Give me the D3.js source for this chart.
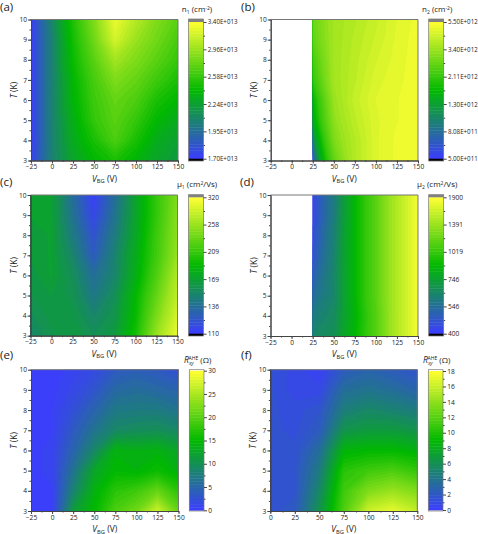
<!DOCTYPE html>
<html lang="en">
<head>
  <meta charset="UTF-8">
  <title>Two-carrier transport maps</title>
  <style>
    body { margin: 0; background: #fff; }
    svg { display: block; }
    text { font-family: "Open Sans", Arial, sans-serif; fill: #222; }
  </style>
</head>
<body>
<svg width="478" height="534"></svg>
<script src="https://d3js.org/d3.v7.min.js"></script>
<script>
  const svg = d3.select("svg");

  // Temperature rows, bottom to top
  const tempK = [3, 4, 5, 6, 7, 8, 9, 10];
  const vFull = [-25, 0, 25, 50, 75, 100, 125, 150];
  const vFrom25 = [25, 50, 75, 100, 125, 150];
  const vFrom0 = [0, 25, 50, 75, 100, 125, 150];

  const n1Ticks = [1.70e13, 1.95e13, 2.24e13, 2.58e13, 2.96e13, 3.40e13];
  const n2Ticks = [5.00e11, 8.08e11, 1.30e12, 2.11e12, 3.40e12, 5.50e12];
  const mu1Ticks = [110, 136, 169, 209, 258, 320];
  const mu2Ticks = [400, 546, 746, 1019, 1391, 1900];
  const rAnomETicks = [0, 5, 10, 15, 20, 25, 30];
  const rAnomFTicks = [0, 2, 4, 6, 8, 10, 12, 14, 16, 18];

  // n1 in 1e13 cm^-2
  const n1 = [
    [1.74, 2.06, 2.27, 2.40, 2.49, 2.38, 2.27, 2.20],
    [1.72, 2.06, 2.31, 2.49, 2.67, 2.49, 2.32, 2.24],
    [1.72, 2.06, 2.34, 2.58, 2.72, 2.58, 2.40, 2.31],
    [1.72, 2.06, 2.38, 2.61, 2.76, 2.67, 2.49, 2.40],
    [1.72, 2.06, 2.40, 2.65, 2.86, 2.76, 2.61, 2.49],
    [1.72, 2.06, 2.44, 2.72, 3.00, 2.86, 2.72, 2.58],
    [1.72, 2.06, 2.47, 2.80, 3.21, 2.96, 2.80, 2.65],
    [1.72, 2.09, 2.51, 2.86, 3.32, 3.07, 2.86, 2.72]
  ];
  // n2 in 1e12 cm^-2
  const n2 = [
    [0.667, 2.67, 3.93, 4.80, 5.12, 5.24],
    [1.03, 3.02, 3.93, 4.80, 5.12, 5.20],
    [1.47, 3.24, 4.13, 4.80, 5.05, 5.20],
    [1.66, 3.40, 4.30, 4.85, 5.05, 5.20],
    [2.11, 3.57, 4.15, 4.75, 5.00, 5.20],
    [2.38, 3.57, 4.10, 4.60, 4.95, 5.20],
    [2.67, 3.57, 4.03, 4.45, 4.90, 5.20],
    [2.80, 3.57, 3.93, 4.35, 4.85, 5.15]
  ];
  const mu1 = [
    [151, 161, 165, 158, 165, 196, 258, 309],
    [157, 163, 163, 151, 161, 191, 243, 294],
    [161, 165, 160, 142, 157, 188, 232, 281],
    [163, 169, 157, 136, 151, 180, 222, 272],
    [165, 169, 151, 126, 149, 178, 215, 258],
    [165, 169, 144, 122, 144, 174, 213, 253],
    [169, 169, 139, 116, 139, 172, 209, 250],
    [169, 169, 136, 112, 136, 172, 209, 245]
  ];
  const mu2 = [
    [638, 679, 873, 1134, 1509, 1850],
    [600, 658, 857, 1134, 1509, 1850],
    [546, 638, 873, 1156, 1509, 1850],
    [505, 638, 873, 1156, 1509, 1850],
    [468, 628, 873, 1156, 1509, 1850],
    [453, 619, 873, 1156, 1509, 1850],
    [438, 600, 873, 1156, 1509, 1850],
    [432, 592, 873, 1156, 1509, 1850]
  ];
  const rAnomE = [
    [0.3, 0.6, 11.4, 15.0, 19.5, 21.6, 27.0, 21.0],
    [0.3, 0.6, 8.4, 14.1, 17.4, 18.6, 21.0, 17.4],
    [0.3, 0.9, 6.6, 12.6, 15.0, 14.4, 15.6, 14.1],
    [0.3, 0.9, 4.8, 9.0, 14.1, 13.8, 14.1, 12.6],
    [0.3, 0.6, 3.6, 6.6, 9.0, 9.6, 9.9, 9.0],
    [0.3, 0.6, 2.4, 4.8, 7.2, 7.5, 7.5, 6.6],
    [0.3, 0.3, 1.5, 3.0, 5.4, 6.0, 5.4, 4.8],
    [0.3, 0.3, 0.9, 1.8, 3.6, 4.2, 3.6, 2.4]
  ];
  const rAnomF = [
    [1.6, 2.2, 6.3, 11.7, 16.2, 17.1, 15.8],
    [1.6, 1.8, 5.4, 11.2, 13.5, 14.4, 13.5],
    [1.6, 1.8, 4.5, 10.4, 11.2, 11.7, 10.8],
    [1.6, 1.6, 3.6, 8.6, 9.0, 9.0, 8.5],
    [1.6, 1.4, 2.3, 6.3, 6.8, 6.8, 6.3],
    [1.6, 1.3, 1.8, 4.7, 5.4, 5.0, 4.5],
    [1.6, 0.9, 0.9, 3.6, 4.0, 3.6, 2.9],
    [1.6, 0.9, 0.4, 2.3, 2.9, 2.3, 1.8]
  ];

  const expLabel = d => d.toExponential(2).toUpperCase().replace(/E\+(\d+)$/, (m, e) => "E+" + e.padStart(3, "0"));

  const panels = [
    { tag: "(a)", tagX: 0, tagY: 10.5, box: [31, 19.5, 178, 160.5], bar: [188.5, 203.5, 19, 161], barTop: 22, barBottom: 158.7,
      xs: vFull, grid: n1, scale: 1e13, ticks: n1Ticks, fmt: expLabel, head: ["n", "1", " (cm", "-2", ")"], headY: 12, overflow: true, xFrom: -25 },
    { tag: "(b)", tagX: 241, tagY: 10.5, box: [270.7, 19.5, 418, 160.5], bar: [428.7, 443.7, 19, 161], barTop: 22, barBottom: 158.7,
      xs: vFrom25, grid: n2, scale: 1e12, ticks: n2Ticks, fmt: expLabel, head: ["n", "2", " (cm", "-2", ")"], headY: 12, overflow: true, xFrom: -25 },
    { tag: "(c)", tagX: 0, tagY: 185.5, box: [30.5, 195, 177.5, 335.7], bar: [188.5, 203.5, 194.7, 336], barTop: 197.3, barBottom: 333.7,
      xs: vFull, grid: mu1, scale: 1, ticks: mu1Ticks, fmt: String, head: ["μ", "1", " (cm", "2", "/Vs)"], headY: 187, overflow: true, xFrom: -25 },
    { tag: "(d)", tagX: 240, tagY: 185.5, box: [270.5, 195, 418, 336], bar: [428.7, 443.7, 194.7, 336], barTop: 197.3, barBottom: 333.7,
      xs: vFrom25, grid: mu2, scale: 1, ticks: mu2Ticks, fmt: String, head: ["μ", "2", " (cm", "2", "/Vs)"], headY: 187, overflow: true, xFrom: -25 },
    { tag: "(e)", tagX: 0, tagY: 358.5, box: [31, 369.7, 178.5, 511], bar: [189.3, 204, 369.7, 511], barTop: 370.7, barBottom: 510.3,
      xs: vFull, grid: rAnomE, scale: 1, ticks: rAnomETicks, fmt: String, head: null, headY: 363, overflow: false, xFrom: -25 },
    { tag: "(f)", tagX: 241, tagY: 358.5, box: [270.3, 369.7, 417.3, 511], bar: [428.3, 443, 369.7, 511], barTop: 371, barBottom: 510,
      xs: vFrom0, grid: rAnomF, scale: 1, ticks: rAnomFTicks, fmt: String, head: null, headY: 363, overflow: false, xFrom: 0 }
  ];

  // Blue to green to yellow, as on the colour bars
  const cmap = d3.scaleLinear().domain([0, 0.5, 1]).range(["#3c3cff", "#00b900", "#ffff32"]);
  const levels = 48;

  panels.forEach((p, idx) => {
    const [x0, y0, x1, y1] = p.box;
    const g = svg.append("g");

    const x = d3.scaleLinear().domain([p.xFrom, 150]).range([x0, x1]);
    const y = d3.scaleLinear().domain([3, 10]).range([y1, y0]);

    // value -> position on the colour bar (ticks are evenly spaced)
    const pos = d3.scaleLinear()
      .domain(p.ticks)
      .range(p.ticks.map((t, i) => i / (p.ticks.length - 1)))
      .clamp(true);

    const nx = p.xs.length;
    const ny = tempK.length;
    const flat = p.grid.flat().map(v => v * p.scale);
    const thresholds = d3.range(levels).map(k => k === 0 ? d3.min(flat) : pos.invert(k / levels));

    const idxToV = d3.scaleLinear().domain([0.5, nx - 0.5]).range([p.xs[0], p.xs[nx - 1]]);
    const idxToT = d3.scaleLinear().domain([0.5, ny - 0.5]).range([tempK[0], tempK[ny - 1]]);
    const path = d3.geoPath(d3.geoTransform({
      point(a, b) { this.stream.point(x(idxToV(a)), y(idxToT(b))); }
    }));

    const clipId = "clip" + idx;
    svg.append("clipPath").attr("id", clipId).append("rect")
      .attr("x", x(p.xs[0])).attr("y", y0)
      .attr("width", x1 - x(p.xs[0])).attr("height", y1 - y0);

    g.append("g").attr("clip-path", `url(#${clipId})`)
      .selectAll("path")
      .data(d3.contours().size([nx, ny]).thresholds(thresholds)(flat))
      .enter().append("path")
      .attr("d", path)
      .attr("fill", (d, i) => cmap((i + 0.5) / levels));

    // top and right frame
    g.append("path")
      .attr("d", `M${x0},${y0}H${x1}V${y1}`)
      .attr("fill", "none").attr("stroke", "#777").attr("stroke-width", 1);

    // axes
    const major = d3.range(p.xFrom, 151, 25);
    const minor = d3.range(p.xFrom, 150, 12.5);
    const axisStyle = (sel, size = 6.6) => {
      sel.selectAll("path").attr("stroke", "#444");
      sel.selectAll("line").attr("stroke", "#444");
      sel.selectAll("text").attr("font-size", size).attr("fill", "#222");
    };
    g.append("g").attr("transform", `translate(0,${y1})`)
      .call(d3.axisBottom(x).tickValues(minor).tickSize(1.5).tickFormat(""))
      .call(axisStyle);
    g.append("g").attr("transform", `translate(0,${y1})`)
      .call(d3.axisBottom(x).tickValues(major).tickSize(3).tickSizeOuter(0).tickPadding(1).tickFormat(d3.format("d")))
      .call(axisStyle);
    g.append("g").attr("transform", `translate(${x0},0)`)
      .call(d3.axisLeft(y).tickValues(d3.range(3, 10, 0.5)).tickSize(1.5).tickFormat(""))
      .call(axisStyle);
    g.append("g").attr("transform", `translate(${x0},0)`)
      .call(d3.axisLeft(y).tickValues(tempK).tickSize(3).tickSizeOuter(0).tickPadding(1).tickFormat(d3.format("d")))
      .call(axisStyle);

    // axis titles
    const xMid = (x0 + x1) / 2;
    const xTitle = g.append("text").attr("x", xMid).attr("y", y1 + 21)
      .attr("text-anchor", "middle").attr("font-size", 8.5);
    xTitle.append("tspan").attr("font-style", "italic").text("V");
    xTitle.append("tspan").attr("font-size", 5.8).attr("dy", 1.5).text("BG");
    xTitle.append("tspan").attr("dy", -1.5).text(" (V)");
    g.append("text")
      .attr("transform", `translate(${x0 - 14},${(y0 + y1) / 2}) rotate(-90)`)
      .attr("text-anchor", "middle").attr("font-size", 8.5)
      .html('<tspan font-style="italic">T</tspan> (K)');

    // panel tag
    g.append("text").attr("x", p.tagX).attr("y", p.tagY).attr("font-size", 11.5).text(p.tag);

    // colour bar
    const [bx0, bx1, by0, by1] = p.bar;
    const barY = d3.scaleLinear().domain([0, 1]).range([p.barBottom, p.barTop]);
    const barRows = d3.range(levels);
    g.append("g").selectAll("rect").data(barRows).enter().append("rect")
      .attr("x", bx0).attr("width", bx1 - bx0)
      .attr("y", d => barY((d + 1) / levels))
      .attr("height", barY(0) - barY(1 / levels) + 0.4)
      .attr("fill", d => cmap((d + 0.5) / levels));
    if (p.overflow) {
      g.append("rect").attr("x", bx0).attr("width", bx1 - bx0)
        .attr("y", by0).attr("height", p.barTop - by0).attr("fill", "#808080");
      g.append("rect").attr("x", bx0).attr("width", bx1 - bx0)
        .attr("y", p.barBottom).attr("height", by1 - p.barBottom).attr("fill", "#000");
    }
    g.append("rect").attr("x", bx0).attr("y", by0)
      .attr("width", bx1 - bx0).attr("height", by1 - by0)
      .attr("fill", "none").attr("stroke", "#777").attr("stroke-width", 0.7);

    const tickY = d3.scaleLinear().domain(p.ticks).range(p.ticks.map((t, i) => barY(i / (p.ticks.length - 1))));
    const mids = d3.pairs(p.ticks).map(([a, b]) => (a + b) / 2);
    g.append("g").attr("transform", `translate(${bx1},0)`)
      .call(d3.axisRight(tickY).tickValues(mids).tickSize(1.5).tickSizeOuter(0).tickFormat(""))
      .call(s => s.select(".domain").remove())
      .call(axisStyle);
    g.append("g").attr("transform", `translate(${bx1},0)`)
      .call(d3.axisRight(tickY).tickValues(p.ticks).tickSize(3).tickSizeOuter(0).tickPadding(1.2).tickFormat(p.fmt))
      .call(s => s.select(".domain").remove())
      .call(axisStyle, p.fmt === expLabel ? 6.2 : 6.6);

    // colour bar title
    const hx = (bx0 + bx1) / 2 + 1;
    const head = g.append("text").attr("x", hx).attr("y", p.headY)
      .attr("text-anchor", "middle").attr("font-size", 8);
    if (p.head) {
      head.append("tspan").text(p.head[0]);
      head.append("tspan").attr("font-size", 5).attr("dy", 1.5).text(p.head[1]);
      head.append("tspan").attr("dy", -1.5).text(p.head[2]);
      head.append("tspan").attr("font-size", 5).attr("dy", -2.5).text(p.head[3]);
      head.append("tspan").attr("dy", 2.5).text(p.head[4]);
    } else {
      head.append("tspan").attr("font-style", "italic").attr("font-size", 8.5).text("R");
      head.append("tspan").attr("font-size", 5).attr("font-style", "italic").attr("dy", 2).text("xy");
      head.append("tspan").attr("font-size", 5).attr("dy", -5).attr("dx", -5).text("AHE");
      head.append("tspan").attr("dy", 3).text(" (Ω)");
    }
  });
</script>
</body>
</html>
